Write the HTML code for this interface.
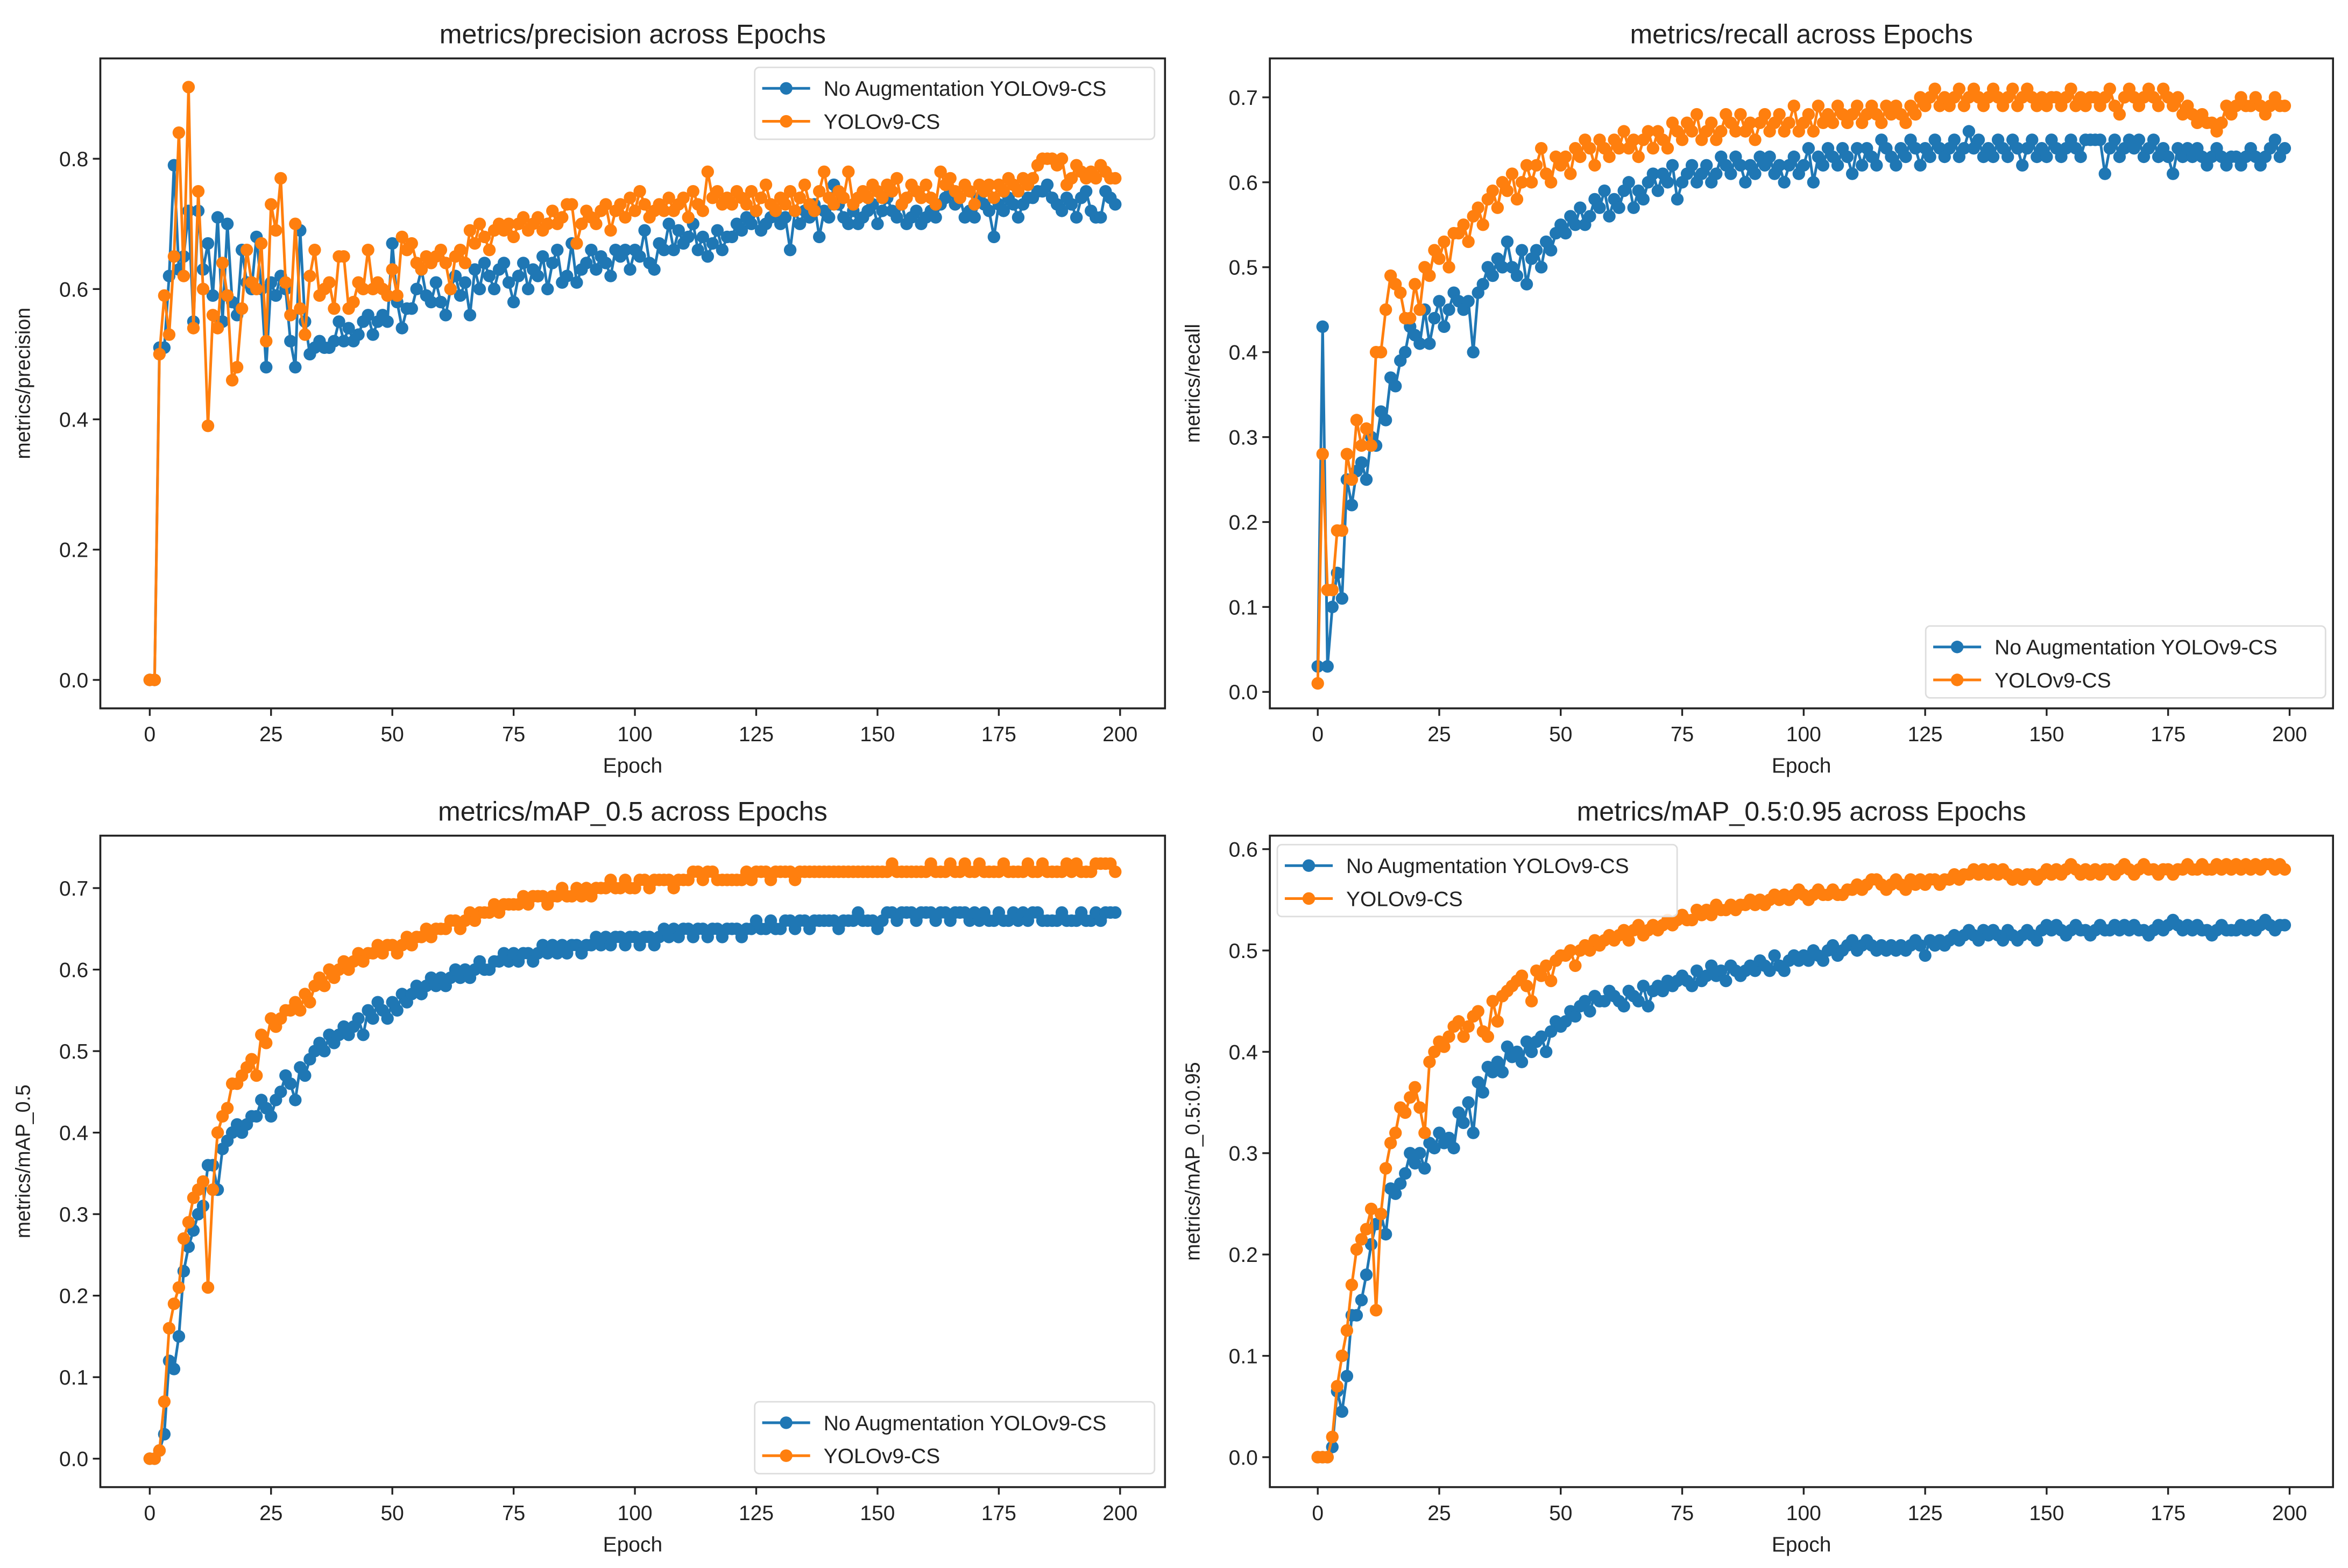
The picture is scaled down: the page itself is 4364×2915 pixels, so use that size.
<!DOCTYPE html>
<html><head><meta charset="utf-8">
<style>
html,body{margin:0;padding:0;background:#fff;}
svg{display:block;}
text{font-family:"Liberation Sans","DejaVu Sans",sans-serif;fill:#222;}
</style></head>
<body>
<svg id="root" width="4364" height="2915" viewBox="0 0 1568 1047" preserveAspectRatio="none" xmlns="http://www.w3.org/2000/svg">
<rect x="0" y="0" width="1568" height="1047" fill="#fff"/>
</svg>
<script>
const xTicks = [0,25,50,75,100,125,150,175,200];
const seriesNames = ["No Augmentation YOLOv9-CS","YOLOv9-CS"];
const precisionBase = [0.00,0.00,0.51,0.51,0.62,0.79,0.63,0.65,0.72,0.55,0.72,0.63,0.67,0.59,0.71,0.55,0.70,0.58,0.56,0.66,0.61,0.60,0.68,0.60,0.48,0.61,0.59,0.62,0.60,0.52,0.48,0.69,0.55,0.50,0.51,0.52,0.51,0.51,0.52,0.55,0.52,0.54,0.52,0.53,0.55,0.56,0.53,0.55,0.56,0.55,0.67,0.58,0.54,0.57,0.57,0.60,0.63,0.59,0.58,0.61,0.58,0.56,0.60,0.62,0.59,0.61,0.56,0.63,0.60,0.64,0.62,0.60,0.63,0.64,0.61,0.58,0.62,0.64,0.60,0.63,0.62,0.65,0.60,0.64,0.66,0.61,0.62,0.67,0.61,0.63,0.64,0.66,0.63,0.65,0.64,0.62,0.66,0.65,0.66,0.63,0.66,0.65,0.69,0.64,0.63,0.67,0.66,0.70,0.66,0.69,0.67,0.68,0.70,0.66,0.68,0.65,0.67,0.69,0.66,0.68,0.68,0.70,0.69,0.71,0.70,0.72,0.69,0.70,0.71,0.72,0.70,0.71,0.66,0.72,0.70,0.72,0.71,0.73,0.68,0.72,0.71,0.76,0.73,0.71,0.70,0.72,0.70,0.71,0.72,0.73,0.70,0.72,0.74,0.72,0.71,0.73,0.70,0.71,0.72,0.70,0.71,0.72,0.71,0.73,0.74,0.75,0.73,0.74,0.71,0.72,0.71,0.74,0.73,0.72,0.68,0.73,0.72,0.74,0.73,0.71,0.73,0.74,0.74,0.75,0.75,0.76,0.74,0.73,0.72,0.74,0.73,0.71,0.74,0.75,0.72,0.71,0.71,0.75,0.74,0.73];
const precisionAug = [0.00,0.00,0.50,0.59,0.53,0.65,0.84,0.62,0.91,0.54,0.75,0.60,0.39,0.56,0.54,0.64,0.59,0.46,0.48,0.57,0.66,0.61,0.60,0.67,0.52,0.73,0.69,0.77,0.61,0.56,0.70,0.57,0.53,0.62,0.66,0.59,0.60,0.61,0.57,0.65,0.65,0.57,0.58,0.61,0.60,0.66,0.60,0.61,0.60,0.59,0.63,0.59,0.68,0.66,0.67,0.64,0.63,0.65,0.64,0.65,0.66,0.64,0.60,0.65,0.66,0.64,0.69,0.67,0.70,0.68,0.66,0.69,0.70,0.69,0.70,0.68,0.70,0.71,0.69,0.70,0.71,0.69,0.70,0.72,0.70,0.71,0.73,0.73,0.67,0.70,0.72,0.71,0.70,0.72,0.73,0.69,0.72,0.73,0.71,0.74,0.72,0.75,0.73,0.71,0.72,0.73,0.72,0.74,0.72,0.73,0.74,0.71,0.75,0.73,0.72,0.78,0.74,0.75,0.73,0.74,0.73,0.75,0.74,0.73,0.75,0.72,0.74,0.76,0.73,0.72,0.74,0.73,0.75,0.72,0.74,0.76,0.73,0.72,0.75,0.78,0.74,0.73,0.75,0.74,0.78,0.73,0.74,0.75,0.74,0.76,0.75,0.74,0.76,0.75,0.77,0.73,0.74,0.76,0.75,0.74,0.76,0.74,0.73,0.78,0.76,0.77,0.75,0.74,0.76,0.75,0.73,0.76,0.75,0.76,0.74,0.76,0.75,0.77,0.76,0.75,0.77,0.76,0.77,0.79,0.80,0.80,0.80,0.79,0.80,0.76,0.77,0.79,0.78,0.77,0.78,0.77,0.79,0.78,0.77,0.77];
const recallBase = [0.03,0.43,0.03,0.10,0.14,0.11,0.25,0.22,0.26,0.27,0.25,0.30,0.29,0.33,0.32,0.37,0.36,0.39,0.40,0.43,0.42,0.41,0.45,0.41,0.44,0.46,0.43,0.45,0.47,0.46,0.45,0.46,0.40,0.47,0.48,0.50,0.49,0.51,0.50,0.53,0.50,0.49,0.52,0.48,0.51,0.52,0.50,0.53,0.52,0.54,0.55,0.54,0.56,0.55,0.57,0.55,0.56,0.58,0.57,0.59,0.56,0.58,0.57,0.59,0.60,0.57,0.59,0.58,0.60,0.61,0.59,0.61,0.60,0.62,0.58,0.60,0.61,0.62,0.60,0.61,0.62,0.60,0.61,0.63,0.62,0.61,0.63,0.62,0.60,0.62,0.61,0.63,0.62,0.63,0.61,0.62,0.60,0.62,0.63,0.61,0.62,0.64,0.60,0.63,0.62,0.64,0.63,0.62,0.64,0.63,0.61,0.64,0.62,0.64,0.63,0.62,0.65,0.64,0.63,0.62,0.64,0.63,0.65,0.64,0.62,0.64,0.63,0.65,0.64,0.63,0.64,0.65,0.63,0.64,0.66,0.64,0.65,0.63,0.64,0.63,0.65,0.64,0.63,0.65,0.64,0.62,0.64,0.65,0.63,0.64,0.63,0.65,0.64,0.63,0.64,0.65,0.64,0.63,0.65,0.65,0.65,0.65,0.61,0.64,0.65,0.63,0.64,0.65,0.64,0.65,0.63,0.64,0.65,0.63,0.64,0.63,0.61,0.64,0.63,0.64,0.63,0.64,0.63,0.62,0.63,0.64,0.63,0.62,0.63,0.63,0.62,0.63,0.64,0.63,0.62,0.63,0.64,0.65,0.63,0.64];
const recallAug = [0.01,0.28,0.12,0.12,0.19,0.19,0.28,0.25,0.32,0.29,0.31,0.29,0.40,0.40,0.45,0.49,0.48,0.47,0.44,0.44,0.48,0.45,0.50,0.49,0.52,0.51,0.53,0.50,0.54,0.54,0.55,0.53,0.56,0.57,0.55,0.58,0.59,0.57,0.60,0.59,0.61,0.58,0.60,0.62,0.60,0.62,0.64,0.61,0.60,0.63,0.62,0.63,0.61,0.64,0.63,0.65,0.64,0.62,0.65,0.64,0.63,0.65,0.64,0.66,0.64,0.65,0.63,0.65,0.66,0.64,0.66,0.65,0.64,0.67,0.66,0.65,0.67,0.66,0.68,0.65,0.66,0.67,0.65,0.66,0.68,0.67,0.66,0.68,0.66,0.67,0.65,0.67,0.68,0.66,0.67,0.68,0.66,0.67,0.69,0.66,0.67,0.68,0.66,0.69,0.67,0.68,0.67,0.69,0.68,0.67,0.68,0.69,0.67,0.68,0.69,0.68,0.67,0.69,0.68,0.69,0.68,0.67,0.69,0.68,0.70,0.69,0.70,0.71,0.69,0.70,0.69,0.70,0.71,0.69,0.70,0.71,0.70,0.69,0.70,0.71,0.70,0.69,0.70,0.71,0.69,0.70,0.71,0.70,0.69,0.70,0.69,0.70,0.70,0.69,0.70,0.71,0.69,0.70,0.69,0.70,0.70,0.69,0.70,0.71,0.69,0.68,0.70,0.71,0.70,0.69,0.70,0.71,0.70,0.69,0.71,0.70,0.69,0.70,0.68,0.69,0.68,0.67,0.68,0.67,0.67,0.66,0.67,0.69,0.68,0.69,0.70,0.69,0.69,0.70,0.69,0.68,0.69,0.70,0.69,0.69];
const map50Base = [0.00,0.00,0.01,0.03,0.12,0.11,0.15,0.23,0.26,0.28,0.30,0.31,0.36,0.36,0.33,0.38,0.39,0.40,0.41,0.40,0.41,0.42,0.42,0.44,0.43,0.42,0.44,0.45,0.47,0.46,0.44,0.48,0.47,0.49,0.50,0.51,0.50,0.52,0.51,0.52,0.53,0.52,0.53,0.54,0.52,0.55,0.54,0.56,0.55,0.54,0.56,0.55,0.57,0.56,0.57,0.58,0.57,0.58,0.59,0.58,0.59,0.58,0.59,0.60,0.59,0.60,0.59,0.60,0.61,0.60,0.60,0.61,0.61,0.62,0.61,0.62,0.61,0.62,0.62,0.61,0.62,0.63,0.62,0.63,0.62,0.63,0.62,0.63,0.63,0.62,0.63,0.63,0.64,0.63,0.64,0.63,0.64,0.64,0.63,0.64,0.64,0.63,0.64,0.64,0.63,0.64,0.65,0.64,0.65,0.64,0.65,0.65,0.64,0.65,0.65,0.64,0.65,0.65,0.64,0.65,0.65,0.65,0.64,0.65,0.65,0.66,0.65,0.65,0.66,0.65,0.65,0.66,0.66,0.65,0.66,0.66,0.65,0.66,0.66,0.66,0.66,0.66,0.65,0.66,0.66,0.66,0.67,0.66,0.66,0.66,0.65,0.66,0.67,0.67,0.66,0.67,0.67,0.67,0.66,0.67,0.67,0.67,0.66,0.67,0.67,0.66,0.67,0.67,0.67,0.66,0.67,0.66,0.67,0.66,0.66,0.67,0.66,0.66,0.67,0.66,0.67,0.66,0.67,0.67,0.66,0.66,0.66,0.66,0.67,0.66,0.66,0.66,0.67,0.66,0.66,0.67,0.66,0.67,0.67,0.67];
const map50Aug = [0.00,0.00,0.01,0.07,0.16,0.19,0.21,0.27,0.29,0.32,0.33,0.34,0.21,0.33,0.40,0.42,0.43,0.46,0.46,0.47,0.48,0.49,0.47,0.52,0.51,0.54,0.53,0.54,0.55,0.55,0.56,0.55,0.57,0.56,0.58,0.59,0.58,0.60,0.59,0.60,0.61,0.60,0.61,0.62,0.61,0.62,0.62,0.63,0.62,0.63,0.63,0.62,0.63,0.64,0.63,0.64,0.64,0.65,0.64,0.65,0.65,0.65,0.66,0.66,0.65,0.66,0.67,0.66,0.67,0.67,0.67,0.68,0.67,0.68,0.68,0.68,0.68,0.69,0.68,0.69,0.69,0.69,0.68,0.69,0.69,0.70,0.69,0.69,0.70,0.69,0.70,0.69,0.70,0.70,0.70,0.71,0.70,0.70,0.71,0.70,0.70,0.71,0.71,0.70,0.71,0.71,0.71,0.71,0.70,0.71,0.71,0.71,0.72,0.72,0.71,0.72,0.72,0.71,0.71,0.71,0.71,0.71,0.71,0.72,0.71,0.72,0.72,0.72,0.71,0.72,0.72,0.72,0.72,0.71,0.72,0.72,0.72,0.72,0.72,0.72,0.72,0.72,0.72,0.72,0.72,0.72,0.72,0.72,0.72,0.72,0.72,0.72,0.72,0.73,0.72,0.72,0.72,0.72,0.72,0.72,0.72,0.73,0.72,0.72,0.72,0.73,0.72,0.72,0.73,0.72,0.72,0.73,0.72,0.72,0.72,0.72,0.73,0.72,0.72,0.72,0.72,0.73,0.72,0.72,0.73,0.72,0.72,0.72,0.72,0.73,0.72,0.73,0.72,0.72,0.72,0.73,0.73,0.73,0.73,0.72];
const map5095Base = [0.000,0.000,0.000,0.010,0.065,0.045,0.080,0.140,0.140,0.155,0.180,0.210,0.230,0.240,0.220,0.265,0.260,0.270,0.280,0.300,0.290,0.300,0.285,0.310,0.305,0.320,0.310,0.315,0.305,0.340,0.330,0.350,0.320,0.370,0.360,0.385,0.380,0.390,0.380,0.405,0.395,0.400,0.390,0.410,0.400,0.410,0.415,0.400,0.420,0.430,0.425,0.430,0.440,0.435,0.445,0.450,0.440,0.455,0.450,0.450,0.460,0.455,0.450,0.445,0.460,0.455,0.450,0.465,0.445,0.460,0.465,0.460,0.470,0.465,0.470,0.475,0.470,0.465,0.480,0.470,0.475,0.485,0.475,0.480,0.470,0.485,0.480,0.475,0.480,0.485,0.480,0.490,0.485,0.480,0.495,0.485,0.480,0.490,0.495,0.490,0.495,0.490,0.500,0.495,0.490,0.500,0.505,0.495,0.500,0.505,0.510,0.500,0.505,0.510,0.505,0.500,0.505,0.500,0.505,0.500,0.505,0.500,0.505,0.510,0.505,0.495,0.510,0.505,0.510,0.505,0.510,0.515,0.510,0.515,0.520,0.515,0.510,0.520,0.515,0.520,0.515,0.510,0.520,0.515,0.510,0.515,0.520,0.515,0.510,0.520,0.525,0.520,0.525,0.520,0.515,0.520,0.525,0.520,0.520,0.515,0.520,0.525,0.520,0.520,0.525,0.520,0.525,0.520,0.525,0.520,0.520,0.515,0.520,0.525,0.520,0.525,0.530,0.525,0.520,0.525,0.520,0.525,0.520,0.520,0.515,0.520,0.525,0.520,0.520,0.520,0.525,0.520,0.525,0.520,0.525,0.530,0.525,0.520,0.525,0.525];
const map5095Aug = [0.000,0.000,0.000,0.020,0.070,0.100,0.125,0.170,0.205,0.215,0.225,0.245,0.145,0.240,0.285,0.310,0.320,0.345,0.340,0.355,0.365,0.345,0.320,0.390,0.400,0.410,0.405,0.415,0.425,0.430,0.415,0.425,0.435,0.440,0.420,0.415,0.450,0.430,0.455,0.460,0.465,0.470,0.475,0.465,0.450,0.480,0.475,0.485,0.470,0.490,0.495,0.495,0.500,0.485,0.500,0.505,0.500,0.510,0.505,0.510,0.515,0.510,0.515,0.520,0.510,0.520,0.525,0.515,0.520,0.525,0.520,0.525,0.530,0.525,0.530,0.535,0.530,0.530,0.540,0.535,0.540,0.535,0.545,0.540,0.540,0.545,0.540,0.545,0.545,0.550,0.545,0.550,0.545,0.550,0.555,0.550,0.555,0.550,0.555,0.560,0.555,0.550,0.555,0.560,0.555,0.555,0.560,0.555,0.555,0.560,0.560,0.565,0.560,0.565,0.570,0.570,0.565,0.560,0.565,0.570,0.565,0.560,0.570,0.565,0.570,0.565,0.570,0.570,0.565,0.570,0.570,0.575,0.570,0.575,0.575,0.580,0.575,0.580,0.575,0.580,0.575,0.580,0.575,0.570,0.575,0.570,0.575,0.575,0.570,0.575,0.580,0.575,0.580,0.575,0.580,0.585,0.580,0.575,0.580,0.575,0.580,0.575,0.580,0.580,0.575,0.580,0.585,0.580,0.575,0.580,0.585,0.580,0.580,0.575,0.580,0.580,0.575,0.580,0.580,0.585,0.580,0.580,0.585,0.580,0.580,0.585,0.580,0.585,0.580,0.585,0.580,0.585,0.580,0.585,0.580,0.585,0.585,0.580,0.585,0.580];
const yTicksPrecision = [0.0,0.2,0.4,0.6,0.8];
const yTicksRecall = [0.0,0.1,0.2,0.3,0.4,0.5,0.6,0.7];
const yTicksMap50 = [0.0,0.1,0.2,0.3,0.4,0.5,0.6,0.7];
const yTicksMap5095 = [0.0,0.1,0.2,0.3,0.4,0.5,0.6];

const NS = "http://www.w3.org/2000/svg";
const root = document.getElementById('root');
function mk(tag, attrs, parent){ const e=document.createElementNS(NS,tag); for(const k in attrs) e.setAttribute(k,attrs[k]); (parent||root).appendChild(e); return e; }
const COLORS = ["#1f77b4","#ff7f0e"];

function panel(cfg){
  const g = mk('g',{});
  
  
  const L=cfg.L,R=cfg.R,T=cfg.T,B=cfg.B;
  const xs = v => cfg.x0 + (v)/(200)*(cfg.x200-cfg.x0);
  const ys = v => cfg.y0 + (v)/(cfg.yref)*(cfg.yrefPx-cfg.y0);
  const t = mk('text',{x:(L+R)/2,y:T-10,'text-anchor':'middle','font-size':18},g);
  t.textContent = cfg.title;
  
  
  xTicks.forEach(v=>{
    const x=xs(v);
    const tk = mk('line',{x1:x,x2:x,y1:B,y2:B+5,stroke:'#222','stroke-width':1.2},g);
    
    
    const lb = mk('text',{x:x,y:B+22,'text-anchor':'middle','font-size':14},g);
    lb.textContent = String(v);
    
    
  });
  cfg.yTicks.forEach(v=>{
    const y=ys(v);
    const tk = mk('line',{x1:L-5,x2:L,y1:y,y2:y,stroke:'#222','stroke-width':1.2},g);
    
    
    const lb = mk('text',{x:L-8,y:y+5,'text-anchor':'end','font-size':14},g);
    lb.textContent = v.toFixed(1);
    
    
  });
  const xl = mk('text',{x:(L+R)/2,y:B+43,'text-anchor':'middle','font-size':14},g);
  xl.textContent='Epoch';
  
  
  const yl = mk('text',{x:0,y:0,'text-anchor':'middle','font-size':13.5,transform:`translate(${L-47},${(T+B)/2}) rotate(-90)`},g);
  yl.textContent=cfg.ylabel;
  
  
  cfg.series.forEach((arr,si)=>{
    const sg = mk('g',{},g);
    
    
    const pts = arr.map((v,i)=>xs(i).toFixed(2)+','+ys(v).toFixed(2)).join(' ');
    const pl = mk('polyline',{points:pts,fill:'none',stroke:COLORS[si],'stroke-width':1.8,'stroke-linejoin':'round'},sg);
    
    
    arr.forEach((v,i)=>{
      const c = mk('circle',{cx:xs(i),cy:ys(v),r:4.2,fill:COLORS[si]},sg);
      
      
    });
  });
  const fr = mk('rect',{x:L,y:T,width:R-L,height:B-T,fill:'none',stroke:'#222','stroke-width':1.3},g);
  
  
  const lg = mk('g',{},g);
  
  
  const lx=cfg.legX, ly=cfg.legY;
  mk('rect',{x:lx,y:ly,width:267,height:48,rx:3,fill:'#fff','fill-opacity':0.85,stroke:'#ddd','stroke-width':1},lg);
  seriesNames.forEach((nm,si)=>{
    const yy = ly+14+si*22;
    const le = mk('g',{},lg);
    
    
    mk('line',{x1:lx+5,x2:lx+37,y1:yy,y2:yy,stroke:COLORS[si],'stroke-width':1.8},le);
    mk('circle',{cx:lx+21,cy:yy,r:4.2,fill:COLORS[si]},le);
    const tx = mk('text',{x:lx+46,y:yy+5,'font-size':14},le);
    tx.textContent = nm;
  });
}

panel({name:'precision-chart',title:'metrics/precision across Epochs',ylabel:'metrics/precision',L:67,R:778,T:39,B:473,x0:100,x200:748,y0:454,yref:0.8,yrefPx:106,yTicks:yTicksPrecision,series:[precisionBase,precisionAug],legX:504,legY:45});
panel({name:'recall-chart',title:'metrics/recall across Epochs',ylabel:'metrics/recall',L:848,R:1558,T:39,B:473,x0:880,x200:1529,y0:462,yref:0.7,yrefPx:65,yTicks:yTicksRecall,series:[recallBase,recallAug],legX:1286,legY:418});
panel({name:'map50-chart',title:'metrics/mAP_0.5 across Epochs',ylabel:'metrics/mAP_0.5',L:67,R:778,T:558,B:993,x0:100,x200:748,y0:974,yref:0.7,yrefPx:593,yTicks:yTicksMap50,series:[map50Base,map50Aug],legX:504,legY:936});
panel({name:'map50-95-chart',title:'metrics/mAP_0.5:0.95 across Epochs',ylabel:'metrics/mAP_0.5:0.95',L:848,R:1558,T:558,B:993,x0:880,x200:1529,y0:973,yref:0.6,yrefPx:567,yTicks:yTicksMap5095,series:[map5095Base,map5095Aug],legX:853,legY:564});
</script>
</body></html>
